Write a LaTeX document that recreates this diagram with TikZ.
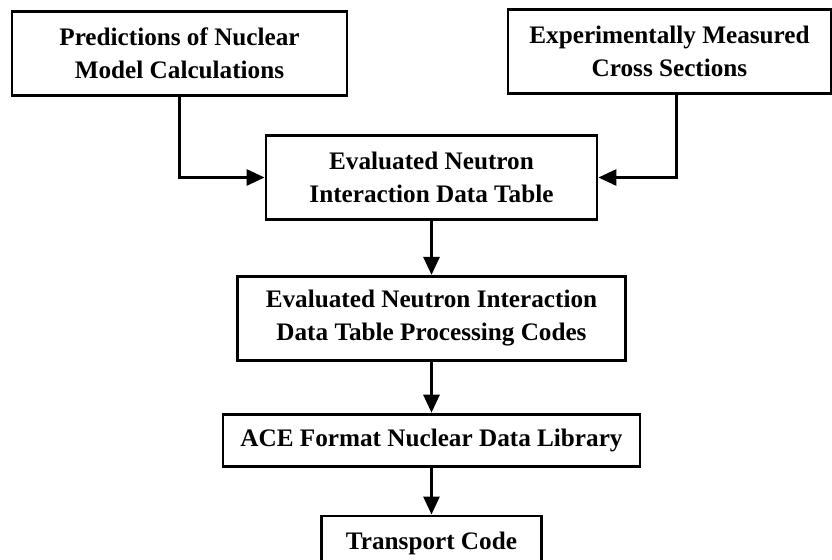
\documentclass[tikz,border=0pt]{standalone}
\usepackage{fontspec}
\setmainfont{Liberation Serif}
\usetikzlibrary{arrows.meta, positioning}

\begin{document}
\begin{tikzpicture}[
    x=0.5pt, y=-0.5pt,
    node distance=25pt,
    every node/.style={font=\fontsize{12.6}{16.5}\selectfont\bfseries},
    block/.style={rectangle, draw, line width=1.4pt, minimum height=42pt, align=center, inner sep=2pt},
    arrow/.style={-{Triangle[length=9pt, width=8pt]}, line width=1.4pt}
]
    \useasboundingbox (0,0) rectangle (832,559);

    % two sources feeding the evaluated table
    \node[block, minimum width=167.5pt] (models) at (179.5,53.5) {Predictions of Nuclear\\Model Calculations};
    \node[block, minimum width=161.5pt] (measured) at (669.5,51.5) {Experimentally Measured\\Cross Sections};
    \node[block, minimum width=165.5pt] (table) at (431.5,177.5) {Evaluated Neutron\\Interaction Data Table};

    % processing chain
    \node[block, minimum width=194pt, below=27pt of table] (codes) {Evaluated Neutron Interaction\\Data Table Processing Codes};
    \node[block, minimum width=208.5pt, minimum height=26pt, below=25.5pt of codes] (ace) {ACE Format Nuclear Data Library};
    \node[block, minimum width=110pt, minimum height=28pt, below=23.5pt of ace] (transport) {Transport Code};

    \draw[arrow] (models.south) |- (table.west);
    \draw[arrow] ([xshift=3.5pt]measured.south) |- (table.east);
    \draw[arrow] (table) -- (codes);
    \draw[arrow] (codes) -- (ace);
    \draw[arrow] (ace) -- (transport);
\end{tikzpicture}
\end{document}
